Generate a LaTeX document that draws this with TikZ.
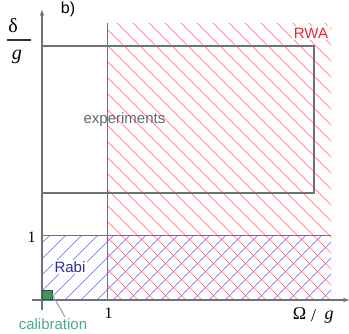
\documentclass[tikz,border=0pt]{standalone}
\usepackage{fontspec}
\setmainfont{Liberation Sans}
\newfontfamily\serif{Liberation Serif}
\usetikzlibrary{arrows.meta}
\definecolor{axisgrey}{RGB}{105,115,120}
\definecolor{textgrey}{RGB}{95,105,110}
\definecolor{hatchred}{RGB}{244,105,115}
\definecolor{rwared}{RGB}{235,40,55}
\definecolor{hatchblue}{RGB}{105,105,200}
\definecolor{rabiblue}{RGB}{45,45,150}
\definecolor{calgreen}{RGB}{80,170,130}
\definecolor{sqgreen}{RGB}{65,150,95}
\definecolor{leadergrey}{RGB}{150,156,160}
\tikzset{
  redhatch/.style={draw=hatchred,line width=0.6pt},
  bluehatch/.style={draw=hatchblue,line width=0.6pt},
  axisline/.style={draw=axisgrey,line width=1.2pt},
  boxline/.style={draw=axisgrey,line width=1.5pt},
  sanslabel/.style={font=\fontsize{15}{18}\selectfont,inner sep=1pt},
  seriflabel/.style={font=\serif\fontsize{16}{19}\selectfont,inner sep=0pt},
  mathlabel/.style={font=\serif\fontsize{20}{24}\selectfont,inner sep=0pt},
  tip/.style={-{Stealth[length=6pt,width=4.5pt]}}
}
\begin{document}
\begin{tikzpicture}[x=1pt,y=-1pt]
\useasboundingbox (0,0) rectangle (349,333);
% red hatching (RWA region)
\begin{scope}
\clip (107,23) rectangle (331,300);
\foreach \c in {-194,-178,...,318} \draw[redhatch] (\c,0) -- ++(400,400);
\end{scope}
% blue hatching (Rabi region)
\begin{scope}
\clip (42,235) rectangle (331,300);
\foreach \c in {269,285,...,637} \draw[bluehatch] (\c,0) -- ++(-400,400);
\end{scope}
% experiments box
\draw[boxline] (42,46) rectangle (314,193);
% lines at 1
\coordinate (vtop) at (107,23);
\coordinate (vbot) at (107,300);
\coordinate (hl) at (42,235);
\coordinate (hr) at (331,235);
\draw[axisline,line width=1pt] (vtop) -- (vbot);
\draw[axisline,line width=1pt] (hl) -- (hr);
% axes
\coordinate (xa0) at (32,300);
\coordinate (xa1) at (349,300);
\coordinate (ya0) at (42,310);
\coordinate (ya1) at (42,10);
\draw[axisline,tip] (xa0) -- (xa1);
\draw[axisline,tip] (ya0) -- (ya1);
% calibration square
\node[draw=sqgreen!60!black,fill=sqgreen,line width=0.6pt,minimum width=10pt,minimum height=9pt,inner sep=0pt,anchor=south west] (cal) at (42,300) {};
% labels
\node[sanslabel,text=calgreen] (callab) at (53,324.5) {calibration};
\coordinate (calend) at (65,317);
\draw[draw=leadergrey,line width=1pt] (cal.east) -- (calend);
\node[sanslabel,text=textgrey] (exp) at (124.5,120) {experiments};
\node[sanslabel,text=rwared,fill=white,inner sep=2pt] (rwa) at (311,33) {RWA};
\node[sanslabel,text=rabiblue,fill=white,inner sep=1.5pt] (rabi) at (70,267) {Rabi};
\node[font=\fontsize{16}{19}\selectfont,inner sep=0pt] (b) at (68,9) {b)};
\node[seriflabel] (one1) at (31.5,237) {1};
\node[seriflabel] (one2) at (108.5,313) {1};
% delta/g
\node[mathlabel] (delta) at (13,26) {δ};
\node[mathlabel] (gy) at (17,57) {\itshape g};
\coordinate (bar0) at (7,40);
\coordinate (bar1) at (31,40);
\draw[draw=black!80,line width=1.2pt] (bar0) -- (bar1);
% Omega/g
\node[mathlabel,font=\serif\fontsize{18}{22}\selectfont] (omega) at (299.5,314) {Ω};
\node[mathlabel,font=\serif\fontsize{18}{22}\selectfont] (slash) at (313.5,316) {/};
\node[mathlabel,font=\serif\fontsize{18}{22}\selectfont] (gx) at (329,317) {\itshape g};
\end{tikzpicture}
\end{document}
